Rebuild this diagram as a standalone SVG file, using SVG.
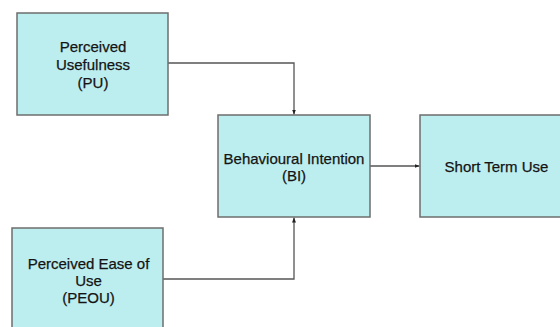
<svg xmlns="http://www.w3.org/2000/svg" width="560" height="327" viewBox="0 0 560 327">
<defs>
<style>
.box{fill:#bdeeef;stroke:#6e6e6e;stroke-width:1.5}
.lbl{font-family:"Liberation Sans",Arial,sans-serif;font-size:15px;fill:#141414;text-anchor:middle;stroke:#141414;stroke-width:0.25}
.conn{fill:none;stroke:#555;stroke-width:1.3}
</style>
<marker id="arr" viewBox="0 0 10 10" refX="10" refY="5" markerWidth="5" markerHeight="5" orient="auto" markerUnits="userSpaceOnUse">
<path d="M0,1 L10,5 L0,9 Z" fill="#222"/>
</marker>
</defs>
<rect width="560" height="327" fill="#fff"/>
<g id="connectors">
<path class="conn" d="M168,63 H294 V114.5" marker-end="url(#arr)"/>
<path class="conn" d="M163,279 H294 V217.5" marker-end="url(#arr)"/>
<path class="conn" d="M370,166 H419.5" marker-end="url(#arr)"/>
</g>
<g id="pu">
<rect class="box" x="17" y="13" width="151" height="102"/>
<text class="lbl" x="93" y="52">Perceived</text>
<text class="lbl" x="93" y="70">Usefulness</text>
<text class="lbl" x="93" y="88">(PU)</text>
</g>
<g id="bi">
<rect class="box" x="218" y="115" width="152" height="102"/>
<text class="lbl" x="294" y="163.5">Behavioural Intention</text>
<text class="lbl" x="294" y="181">(BI)</text>
</g>
<g id="stu">
<rect class="box" x="420" y="115" width="152" height="102"/>
<text class="lbl" x="496.5" y="172">Short Term Use</text>
</g>
<g id="peou">
<rect class="box" x="12" y="228" width="151" height="102"/>
<text class="lbl" x="88.5" y="269">Perceived Ease of</text>
<text class="lbl" x="88.5" y="286">Use</text>
<text class="lbl" x="88.5" y="303">(PEOU)</text>
</g>
</svg>
